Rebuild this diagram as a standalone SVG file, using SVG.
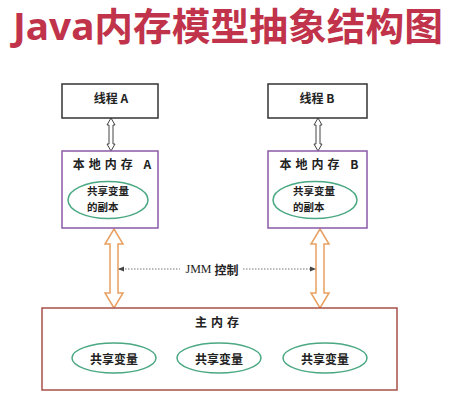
<svg xmlns="http://www.w3.org/2000/svg" width="462" height="411" viewBox="0 0 462 411">
<defs>
<style>
.t{font-family:"Noto Sans CJK SC","Noto Sans",sans-serif;font-size:12px;font-weight:bold;fill:#222;text-anchor:middle;dominant-baseline:central}
.tl{font-family:"Noto Sans CJK SC","Noto Sans",sans-serif;font-size:10.5px;font-weight:bold;fill:#222}
.thread{fill:#fff;stroke:#333;stroke-width:1.5}
.local{fill:#fff;stroke:#8a5aa8;stroke-width:1.5}
.main{fill:#fff;stroke:#a8504a;stroke-width:1.5}
.ell{fill:#fff;stroke:#4aa882;stroke-width:1.5}
.harrow{fill:#fff;stroke:#444;stroke-width:1}
.oarrow{fill:#fff;stroke:#e8a060;stroke-width:1.5}
.dot{stroke:#777;stroke-width:1;stroke-dasharray:1.5 1.5;fill:none}
</style>
<marker id="ah" viewBox="0 0 6 6" refX="5" refY="3" markerWidth="6" markerHeight="6" orient="auto-start-reverse" markerUnits="userSpaceOnUse">
<path d="M0,0.5 L6,3 L0,5.5 Z" fill="#444"/>
</marker>
</defs>
<rect width="462" height="411" fill="#fff"/>
<text x="13" y="40" font-family="'Noto Sans','Noto Sans CJK SC',sans-serif" font-size="38" font-weight="bold" fill="#c0334a" textLength="430" lengthAdjust="spacingAndGlyphs">Java内存模型抽象结构图</text>

<g id="connectors">
<path class="harrow" d="M111,118 L115,125 L113,125 L113,144 L115,144 L111,151 L107,144 L109,144 L109,125 L107,125 Z"/>
<path class="harrow" d="M318,118 L322,125 L320,125 L320,144 L322,144 L318,151 L314,144 L316,144 L316,125 L314,125 Z"/>
<path class="oarrow" d="M114,229 L123,244 L118,244 L118,293 L123,293 L114,308 L105,293 L110,293 L110,244 L105,244 Z"/>
<path class="oarrow" d="M320,229 L329,244 L324,244 L324,293 L329,293 L320,308 L311,293 L316,293 L316,244 L311,244 Z"/>
<line class="dot" x1="119" y1="269" x2="180" y2="269" marker-start="url(#ah)"/>
<line class="dot" x1="243" y1="269" x2="315" y2="269" marker-end="url(#ah)"/>
<text x="212" y="269" font-family="'Liberation Serif','Noto Sans CJK SC',serif" font-size="12" fill="#222" text-anchor="middle" dominant-baseline="central">JMM <tspan font-family="'Noto Sans CJK SC',sans-serif" font-weight="bold">控制</tspan></text>
</g>

<g id="threadA">
<rect class="thread" x="62" y="84" width="96" height="34"/>
<text class="t" x="111" y="97">线程 A</text>
</g>
<g id="threadB">
<rect class="thread" x="268" y="84" width="99" height="34"/>
<text class="t" x="317" y="97">线程 B</text>
</g>

<g id="localA">
<rect class="local" x="62" y="151" width="96" height="77"/>
<text class="t" x="114" y="163" letter-spacing="4">本地内存 A</text>
<ellipse class="ell" cx="108" cy="200" rx="40" ry="18.5"/>
<text class="tl" x="87" y="195">共享变量</text>
<text class="tl" x="87" y="211">的副本</text>
</g>
<g id="localB">
<rect class="local" x="268" y="151" width="99" height="77"/>
<text class="t" x="321" y="163" letter-spacing="4">本地内存 B</text>
<ellipse class="ell" cx="315" cy="200" rx="42" ry="18.5"/>
<text class="tl" x="293" y="195">共享变量</text>
<text class="tl" x="293" y="211">的副本</text>
</g>

<g id="mainMemory">
<rect class="main" x="42" y="308" width="355" height="82"/>
<text class="t" x="219" y="321" letter-spacing="4">主内存</text>
</g>
<g id="var1">
<ellipse class="ell" cx="114" cy="358" rx="42" ry="15"/>
<text class="t" x="114" y="358">共享变量</text>
</g>
<g id="var2">
<ellipse class="ell" cx="219" cy="358" rx="42" ry="15"/>
<text class="t" x="219" y="358">共享变量</text>
</g>
<g id="var3">
<ellipse class="ell" cx="325" cy="358" rx="42" ry="15"/>
<text class="t" x="325" y="358">共享变量</text>
</g>
</svg>
